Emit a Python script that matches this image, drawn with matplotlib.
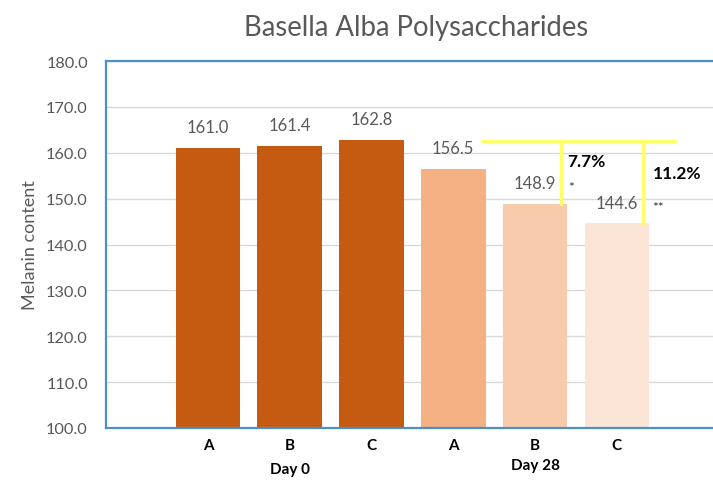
import matplotlib.pyplot as plt
import numpy as np

plt.rcParams['font.family'] = ['Lato', 'DejaVu Sans']

# data
samples = ["A", "B", "C", "A", "B", "C"]
groups = ["Day 0", "Day 28"]
melanin = [161.0, 161.4, 162.8, 156.5, 148.9, 144.6]
bar_colors = ["#C55A11", "#C55A11", "#C55A11", "#F4B183", "#F8CBAD", "#FBE5D6"]
reductions = ["7.7%", "11.2%"]
stars = ["*", "**"]
yticks = np.arange(100, 181, 10)

grey = "#595959"
blue = "#4A90D0"
yellow = "#FFFF66"

fig = plt.figure(figsize=(7.13, 4.81), dpi=100)
# plot area runs past the right edge like the original screenshot
ax = fig.add_axes([106 / 713, 1 - 429 / 481, 640 / 713, 367 / 481])

x = np.arange(len(samples))
bars = ax.bar(x, melanin, width=0.79, color=bar_colors, zorder=2)

ax.set_ylim(100, 180)
ax.set_xlim(-1.247, 6.58)
ax.set_yticks(yticks)
ax.set_yticklabels([f"{v:.1f}" for v in yticks], color=grey, fontsize=11.8)
ax.yaxis.grid(True, color="#D9D9D9", linewidth=1, zorder=0)
ax.tick_params(axis="y", length=0, pad=13)
ax.tick_params(axis="x", length=0, pad=7)
ax.set_xticks(x)
ax.set_xticklabels(samples, fontweight="bold", fontsize=11, color="black")
for s in ["left", "top", "bottom"]:
    ax.spines[s].set_color(blue)
    ax.spines[s].set_linewidth(1.6)
ax.spines["right"].set_visible(False)

# value labels
for xi, v in zip(x, melanin):
    ax.annotate(f"{v:.1f}", (xi, v), xytext=(0, 15), textcoords="offset points",
                ha="center", va="center", color=grey, fontsize=12)

# group labels
ax.text(1, -0.113, groups[0], transform=ax.get_xaxis_transform(),
        ha="center", va="center", fontweight="bold", fontsize=11)
ax.text(4, -0.102, groups[1], transform=ax.get_xaxis_transform(),
        ha="center", va="center", fontweight="bold", fontsize=11)

# yellow bracket comparing Day 28 B and C against A
top_y = 162.5
ax.plot([x[3] + 0.35, x[5] + 0.71], [top_y, top_y], color=yellow, lw=2.2, zorder=3)
for i in (4, 5):
    xv = x[i] + 0.32
    ax.plot([xv, xv], [top_y, melanin[i]], color=yellow, lw=2.2, zorder=3)

ax.text(x[4] + 0.39, 158.2, reductions[0], fontweight="bold", fontsize=12.5,
        ha="left", va="center", color="black")
ax.text(x[5] + 0.44, 155.6, reductions[1], fontweight="bold", fontsize=12.5,
        ha="left", va="center", color="black")
ax.text(x[4] + 0.40, 152.6, stars[0], fontsize=10, ha="left", va="center", color="#333333")
ax.text(x[5] + 0.43, 148.2, stars[1], fontsize=10, ha="left", va="center", color="#333333")

ax.set_ylabel("Melanin content", color=grey, fontsize=13, labelpad=6)
fig.text(416 / 713, 1 - 28 / 481, "Basella Alba Polysaccharides",
         ha="center", va="center", fontsize=19.8, color=grey)

fig.savefig("out.png", dpi=100)
